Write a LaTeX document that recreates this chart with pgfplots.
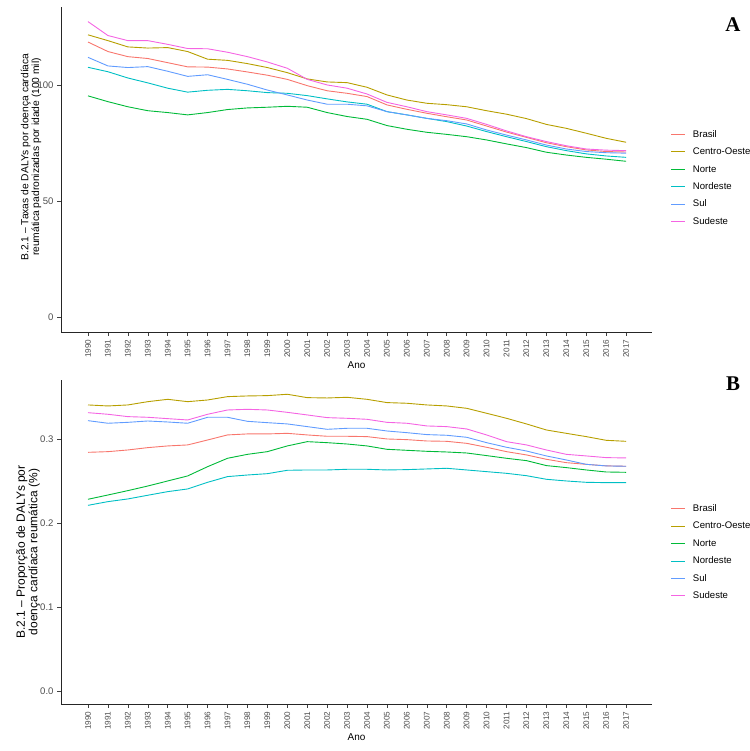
\documentclass[border=0pt]{standalone}
\usepackage{fontspec}
\setmainfont{Liberation Sans}
\newfontfamily\serifb{Liberation Serif}
\usepackage{pgfplots}
\pgfplotsset{compat=1.18}
\usepackage{pgfplotstable}

\definecolor{cBR}{HTML}{F8766D}
\definecolor{cCO}{HTML}{B79F00}
\definecolor{cNO}{HTML}{00BA38}
\definecolor{cNE}{HTML}{00BFC4}
\definecolor{cSU}{HTML}{619CFF}
\definecolor{cSE}{HTML}{F564E3}
\definecolor{tickgray}{HTML}{4D4D4D}

\pgfplotstableread{
year BR CO NO NE SU SE
1990 118.5 121.6 95.3 107.6 111.9 127.3
1991 114.4 119.1 92.8 105.7 108.2 121.3
1992 112.2 116.4 90.6 103.0 107.5 119.1
1993 111.4 115.9 88.9 100.9 107.9 119.1
1994 109.6 116.1 88.1 98.6 105.9 117.5
1995 107.8 114.4 87.1 96.9 103.7 115.7
1996 107.7 111.1 88.1 97.7 104.4 115.6
1997 106.9 110.6 89.4 98.1 102.4 114.1
1998 105.6 109.2 90.1 97.5 100.3 112.2
1999 104.2 107.5 90.4 96.7 97.8 109.9
2000 102.4 105.3 90.8 96.4 95.7 107.2
2001 99.7 102.6 90.4 95.4 93.5 102.4
2002 97.5 101.3 88.1 94.0 91.7 100.0
2003 96.4 101.0 86.4 92.7 91.7 98.6
2004 95.0 99.0 85.2 91.7 91.0 96.1
2005 91.4 95.7 82.5 88.5 88.5 92.5
2006 89.5 93.5 80.9 87.1 87.1 90.6
2007 87.8 92.1 79.6 85.6 85.6 88.5
2008 86.3 91.5 78.7 84.2 84.6 87.1
2009 84.9 90.6 77.7 82.3 83.2 85.6
2010 82.3 88.9 76.3 79.9 80.6 83.0
2011 79.7 87.4 74.6 77.7 78.4 80.2
2012 77.4 85.5 73.0 75.6 76.3 77.7
2013 75.1 83.0 71.0 73.4 74.1 75.6
2014 73.4 81.3 69.8 71.7 72.4 73.8
2015 72.0 79.2 68.8 70.3 71.3 72.4
2016 71.3 77.0 68.0 69.4 70.8 71.9
2017 71.1 75.3 67.1 68.8 70.6 71.7
}\dataA

\pgfplotstableread{
year BR CO NO NE SU SE
1990 0.2841 0.3405 0.2282 0.2210 0.3218 0.3313
1991 0.2849 0.3393 0.2333 0.2254 0.3187 0.3294
1992 0.2869 0.3405 0.2385 0.2286 0.3198 0.3266
1993 0.2897 0.3444 0.2440 0.2330 0.3214 0.3258
1994 0.2917 0.3472 0.2500 0.2373 0.3202 0.3242
1995 0.2929 0.3444 0.2560 0.2405 0.3187 0.3226
1996 0.2988 0.3464 0.2670 0.2484 0.3258 0.3294
1997 0.3048 0.3504 0.2770 0.2552 0.3258 0.3345
1998 0.3060 0.3512 0.2817 0.2571 0.3210 0.3353
1999 0.3060 0.3516 0.2849 0.2587 0.3194 0.3345
2000 0.3067 0.3532 0.2917 0.2627 0.3179 0.3317
2001 0.3048 0.3492 0.2968 0.2631 0.3147 0.3286
2002 0.3032 0.3488 0.2956 0.2631 0.3115 0.3254
2003 0.3032 0.3496 0.2940 0.2639 0.3127 0.3246
2004 0.3028 0.3472 0.2917 0.2639 0.3127 0.3234
2005 0.3000 0.3433 0.2877 0.2631 0.3095 0.3198
2006 0.2992 0.3425 0.2865 0.2635 0.3075 0.3187
2007 0.2976 0.3405 0.2853 0.2643 0.3052 0.3155
2008 0.2972 0.3393 0.2845 0.2651 0.3044 0.3147
2009 0.2948 0.3365 0.2833 0.2631 0.3020 0.3119
2010 0.2901 0.3306 0.2802 0.2611 0.2956 0.3048
2011 0.2849 0.3246 0.2770 0.2591 0.2901 0.2968
2012 0.2810 0.3179 0.2742 0.2563 0.2857 0.2929
2013 0.2758 0.3107 0.2683 0.2520 0.2798 0.2869
2014 0.2718 0.3067 0.2659 0.2500 0.2750 0.2817
2015 0.2698 0.3028 0.2631 0.2484 0.2698 0.2798
2016 0.2680 0.2984 0.2607 0.2480 0.2679 0.2778
2017 0.2675 0.2972 0.2603 0.2480 0.2675 0.2774
}\dataB

\pgfplotsset{
  panel/.style={
    scale only axis, width=591bp,
    xmin=1988.645, xmax=2018.30,
    axis x line*=bottom, axis y line*=left,
    axis line style={-, black!85, line width=0.6bp},
    xtick={1990,...,2017},
    /pgf/number format/assume math mode=true,
    x tick label style={rotate=90, anchor=east, font=\fontsize{8.2}{9}\selectfont, text=tickgray, /pgf/number format/1000 sep={}},
    y tick label style={font=\fontsize{9.6}{10}\selectfont, text=tickgray},
    tick align=outside, major tick length=4bp,
    tick style={black!75, line width=0.5bp},
    xlabel={Ano},
    xlabel style={font=\fontsize{12}{14}\selectfont},
    every axis x label/.style={at={(axis description cs:0.5,0)}, anchor=center, yshift=-33bp},
    legend style={draw=none, fill=none, font=\fontsize{9.6}{11}\selectfont,
      anchor=north west, inner sep=0pt, outer sep=0pt, row sep=8bp, column sep=7bp,
      nodes={inner sep=0pt, text height=7.4bp, text depth=2bp}},
    legend cell align=left,
    legend image code/.code={\draw[#1, line width=0.9bp] (0bp,0bp) -- (14bp,0bp);},
    every axis plot/.append style={line width=0.9bp},
  }
}

\begin{document}
\begin{tikzpicture}
\useasboundingbox (0,0) rectangle (750bp,751bp);

% Panel A
\begin{axis}[panel, at={(61bp,419bp)}, anchor=south west, height=325bp,
  ymin=-6.47, ymax=133.6, ytick={0,50,100},
  legend style={at={(axis description cs:1.0322,0.622)}}]
\addplot[cBR] table[x=year,y=BR]{\dataA}; \addlegendentry{Brasil}
\addplot[cCO] table[x=year,y=CO]{\dataA}; \addlegendentry{Centro-Oeste}
\addplot[cNO] table[x=year,y=NO]{\dataA}; \addlegendentry{Norte}
\addplot[cNE] table[x=year,y=NE]{\dataA}; \addlegendentry{Nordeste}
\addplot[cSU] table[x=year,y=SU]{\dataA}; \addlegendentry{Sul}
\addplot[cSE] table[x=year,y=SE]{\dataA}; \addlegendentry{Sudeste}
\end{axis}

% Panel B
\begin{axis}[panel, at={(61bp,47bp)}, anchor=south west, height=324bp,
  ymin=-0.0155, ymax=0.3702, ytick={0,0.1,0.2,0.3},
  yticklabel style={/pgf/number format/fixed, /pgf/number format/precision=1, /pgf/number format/fixed zerofill},
  legend style={at={(axis description cs:1.0322,0.617)}}]
\addplot[cBR] table[x=year,y=BR]{\dataB}; \addlegendentry{Brasil}
\addplot[cCO] table[x=year,y=CO]{\dataB}; \addlegendentry{Centro-Oeste}
\addplot[cNO] table[x=year,y=NO]{\dataB}; \addlegendentry{Norte}
\addplot[cNE] table[x=year,y=NE]{\dataB}; \addlegendentry{Nordeste}
\addplot[cSU] table[x=year,y=SU]{\dataB}; \addlegendentry{Sul}
\addplot[cSE] table[x=year,y=SE]{\dataB}; \addlegendentry{Sudeste}
\end{axis}

% Y axis titles
\node[rotate=90, align=center, font=\fontsize{10.3}{10.8}\selectfont] at (31bp,594bp)
  {B.2.1 -- Taxas de DALYs por doença cardíaca\\reumática padronizadas por idade (100 mil)};
\node[rotate=90, align=center, font=\fontsize{12}{12.5}\selectfont] at (28bp,199bp)
  {B.2.1 -- Proporção de DALYs por\\doença cardíaca reumática (\%)};

% Panel tags
\node[font=\serifb\bfseries\fontsize{21}{21}\selectfont] at (733bp,726bp) {A};
\node[font=\serifb\bfseries\fontsize{21}{21}\selectfont] at (733bp,367bp) {B};
\end{tikzpicture}
\end{document}
